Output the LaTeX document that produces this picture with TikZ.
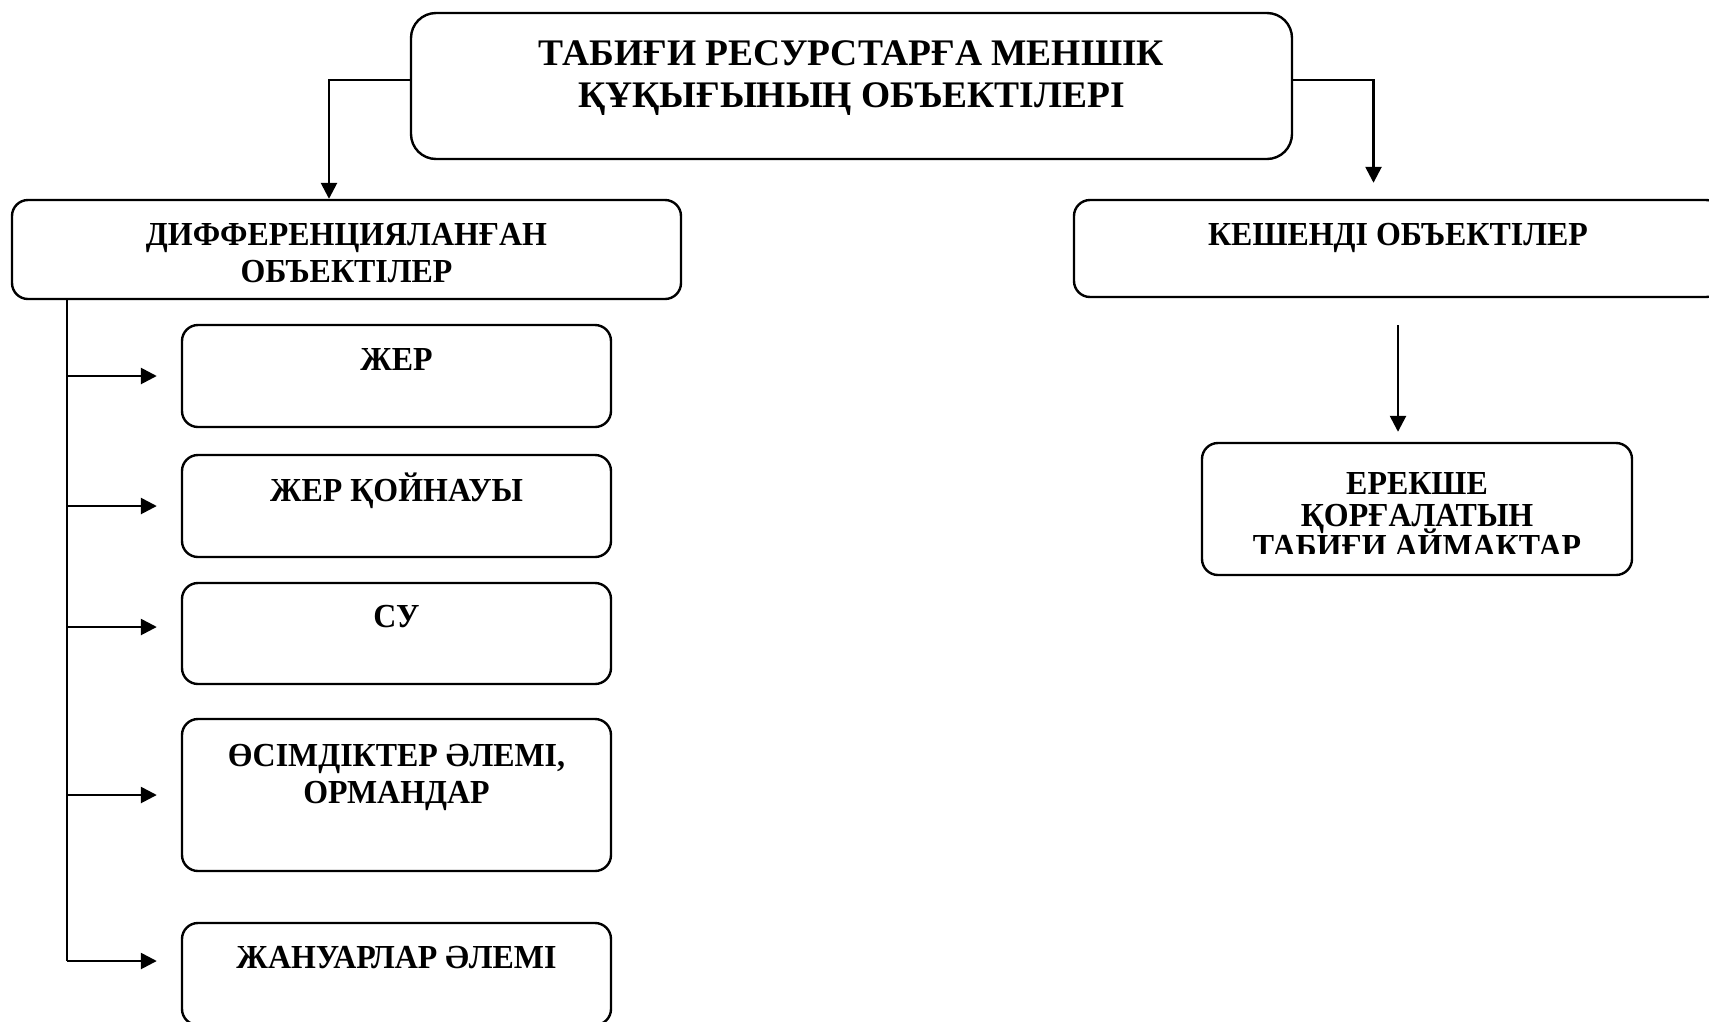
\documentclass[tikz,border=0pt]{standalone}
\usepackage{fontspec}
\setmainfont{Liberation Serif}
\newfontfamily\condfont{Liberation Serif}[FakeStretch=0.95]
\usetikzlibrary{arrows.meta,calc}
\begin{document}
\begin{tikzpicture}[x=1pt,y=-1pt,
  box/.style={draw,line width=2.4pt,rounded corners=16pt,inner sep=0pt},
  txt/.style={anchor=base,inner sep=0pt,font=\condfont\fontsize{33.6}{37}\selectfont\bfseries},
  ttl/.style={anchor=base,inner sep=0pt,font=\fontsize{37.5}{43}\selectfont\bfseries},
  link/.style={line width=2.6pt},
  arr/.style={line width=2.6pt,-{Triangle[length=16pt,width=16pt]}}]
\useasboundingbox (0,0) rectangle (1709,1021);
\clip (0,0) rectangle (1709,1021);
% boxes
\node[box,rounded corners=25pt,minimum width=881pt,minimum height=146pt] (top) at (851.5,86) {};
\node[box,minimum width=669pt,minimum height=99pt] (diff) at (346.5,249.5) {};
\node[box,minimum width=648pt,minimum height=97pt] (kesh) at (1398,248.5) {};
\node[box,minimum width=429pt,minimum height=102pt] (jer) at (396.5,376) {};
\node[box,minimum width=429pt,minimum height=102pt] (koin) at (396.5,506) {};
\node[box,minimum width=429pt,minimum height=101pt] (su) at (396.5,633.5) {};
\node[box,minimum width=429pt,minimum height=152pt] (osim) at (396.5,795) {};
\node[box,minimum width=429pt,minimum height=102pt] (zhan) at (396.5,974) {};
\node[box,minimum width=430pt,minimum height=132pt] (erek) at (1417,509) {};
% texts
\node[ttl] (t1) at (851.5,65) {ТАБИҒИ РЕСУРСТАРҒА МЕНШІК};
\node[ttl] (t2) at (851.5,107) {ҚҰҚЫҒЫНЫҢ ОБЪЕКТІЛЕРІ};
\node[txt] (d1) at (346.5,245) {ДИФФЕРЕНЦИЯЛАНҒАН};
\node[txt] (d2) at (346.5,282) {ОБЪЕКТІЛЕР};
\node[txt] (k1) at (1398,245) {КЕШЕНДІ ОБЪЕКТІЛЕР};
\node[txt] (j1) at (396.5,370) {ЖЕР};
\node[txt] (q1) at (396.5,501) {ЖЕР ҚОЙНАУЫ};
\node[txt] (s1) at (396.5,627) {СУ};
\node[txt] (o1) at (396.5,766) {ӨСІМДІКТЕР ӘЛЕМІ,};
\node[txt] (o2) at (396.5,803) {ОРМАНДАР};
\node[txt] (z1) at (396.5,968) {ЖАНУАРЛАР ӘЛЕМІ};
\node[txt] (e1) at (1417,494) {ЕРЕКШЕ};
\node[txt] (e2) at (1417,526) {ҚОРҒАЛАТЫН};
\begin{scope}
\clip (1202,443) rectangle (1632,553);
\node[txt] (e3) at (1417,557) {ТАБИҒИ АЙМАКТАР};
\end{scope}
% connectors
\draw[arr] ([yshift=6pt]top.west) -| ([xshift=-17.5pt]diff.north);
\draw[arr] ([yshift=6pt]top.east) -| ([xshift=-24.5pt,yshift=16pt]kesh.north);
\coordinate (trunkend) at (67,961);
\draw[link] (diff.south -| trunkend) -- (trunkend);
\draw[arr] (jer.west -| trunkend) -- ([xshift=-24pt]jer.west);
\draw[arr] (koin.west -| trunkend) -- ([xshift=-24pt]koin.west);
\draw[arr] ($(su.west -| trunkend)+(0,-6.5)$) -- ($(su.west)+(-24,-6.5)$);
\draw[arr] (osim.west -| trunkend) -- ([xshift=-24pt]osim.west);
\draw[arr] (trunkend) -- ($(trunkend -| zhan.west)+(-24,0)$);
\draw[arr] ([yshift=-27pt]kesh.south) -- ($(erek.north -| kesh.south)+(0,-10)$);
\end{tikzpicture}
\end{document}
